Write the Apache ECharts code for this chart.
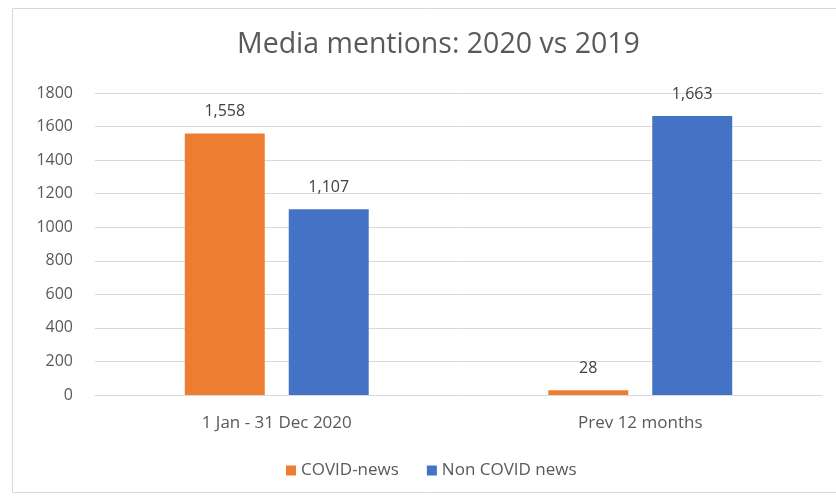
<!DOCTYPE html>
<html><head><meta charset="utf-8">
<script src="https://cdn.jsdelivr.net/npm/echarts@6/dist/echarts.min.js"></script>
<style>html,body{margin:0;padding:0;background:#fff}#c{width:836px;height:498px}</style>
</head><body><div id="c"></div>
<script>
const categories = ['1 Jan - 31 Dec 2020', 'Prev 12 months'];
const covidNews = [1558, 28];
const nonCovidNews = [1107, 1663];
const yTicks = [0, 200, 400, 600, 800, 1000, 1200, 1400, 1600, 1800];

const chart = echarts.init(document.getElementById('c'), null, {renderer: 'canvas'});
const fmt = v => v.toLocaleString('en-US');
const font = 'Open Sans';
chart.setOption({
  animation: false,
  backgroundColor: '#fff',
  graphic: [{type: 'rect', shape: {x: 12.5, y: 8.5, width: 830, height: 484}, style: {fill: 'none', stroke: '#d9d9d9', lineWidth: 1}}],
  title: {text: 'Media mentions: 2020 vs 2019', left: 232, top: 25,
    textStyle: {fontFamily: font, fontSize: 28.5, fontWeight: 'normal', color: '#595959'}},
  legend: {top: 457, left: 281, itemWidth: 10, itemHeight: 10, itemGap: 28,
    icon: 'rect', textStyle: {fontFamily: font, fontSize: 17, color: '#595959'},
    data: ['COVID-news', 'Non COVID news']},
  grid: {left: 95, right: 14, top: 93, bottom: 103},
  xAxis: {type: 'category', data: categories,
    axisLine: {lineStyle: {color: '#d9d9d9'}}, axisTick: {show: false},
    axisLabel: {fontFamily: font, fontSize: 17, color: '#595959', margin: 20}},
  yAxis: {type: 'value', min: yTicks[0], max: yTicks[yTicks.length - 1], interval: 200,
    axisLine: {show: false}, axisTick: {show: false},
    splitLine: {lineStyle: {color: '#d9d9d9'}},
    axisLabel: {fontFamily: font, fontSize: 16, color: '#595959', margin: 22, formatter: v => String(v)}},
  series: [
    {name: 'COVID-news', type: 'bar', data: covidNews, barWidth: '22%', barGap: '30%',
      itemStyle: {color: '#ED7D31'},
      label: {show: true, position: 'top', distance: 14, formatter: p => fmt(p.value),
        fontFamily: font, fontSize: 16, color: '#404040'}},
    {name: 'Non COVID news', type: 'bar', data: nonCovidNews, barWidth: '22%',
      itemStyle: {color: '#4472C4'},
      label: {show: true, position: 'top', distance: 14, formatter: p => fmt(p.value),
        fontFamily: font, fontSize: 16, color: '#404040'}}
  ]
});
</script></body></html>
